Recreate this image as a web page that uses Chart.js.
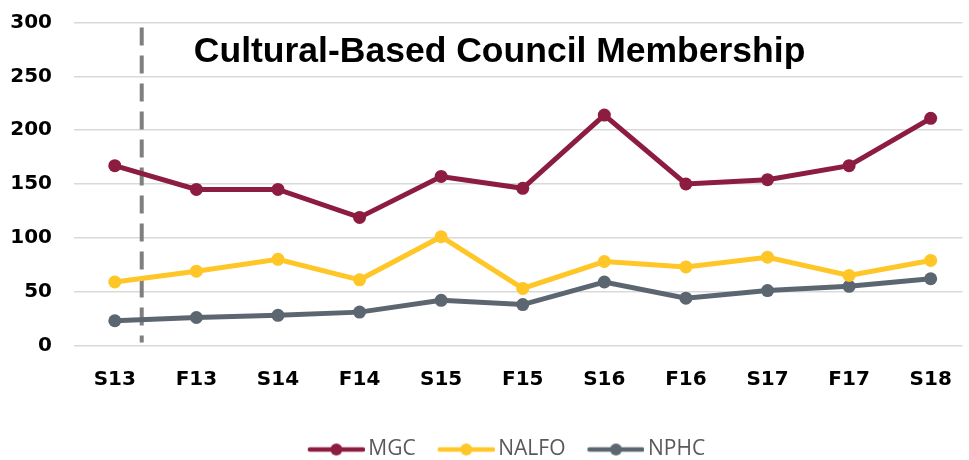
<!DOCTYPE html>
<html>
<head>
<meta charset="utf-8">
<script src="https://cdn.jsdelivr.net/npm/chart.js@4.4.1/dist/chart.umd.min.js"></script>
<style>
  html, body { margin: 0; padding: 0; background: #fff; }
  #wrap { width: 969px; height: 460px; }
</style>
</head>
<body>
<div id="wrap"><canvas id="chart"></canvas></div>
<script>
'use strict';

const semesters = ['S13', 'F13', 'S14', 'F14', 'S15', 'F15', 'S16', 'F16', 'S17', 'F17', 'S18'];
const mgc   = [167, 145, 145, 119, 157, 146, 214, 150, 154, 167, 211];
const nalfo = [59, 69, 80, 61, 101, 53, 78, 73, 82, 65, 79];
const nphc  = [23, 26, 28, 31, 42, 38, 59, 44, 51, 55, 62];
const yTicks = [0, 50, 100, 150, 200, 250, 300];

const titleText = 'Cultural-Based Council Membership';

// legend marker: line with a dot in the middle
function legendMarker(color) {
  const c = document.createElement('canvas');
  c.width = 64;
  c.height = 14;
  const g = c.getContext('2d');
  g.strokeStyle = color;
  g.lineWidth = 4.5;
  g.lineCap = 'round';
  g.beginPath();
  g.moveTo(9, 7);
  g.lineTo(62, 7);
  g.stroke();
  g.fillStyle = color;
  g.beginPath();
  g.arc(35.5, 7, 6, 0, Math.PI * 2);
  g.fill();
  return c;
}

// dashed divider between S13 and F13, plus the title inside the plot
const extras = {
  id: 'extras',
  afterLayout(chart) {
    // legend sits a little right of the canvas centre
    chart.legend.left += 22;
    chart.legend.right += 22;
  },
  beforeDatasetsDraw(chart) {
    const { ctx, chartArea, scales } = chart;
    const x = scales.x.getPixelForValue(0.33);
    ctx.save();
    ctx.strokeStyle = '#7f7f7f';
    ctx.lineWidth = 4;
    ctx.setLineDash([18, 10]);
    ctx.beginPath();
    ctx.moveTo(x, chartArea.top + 5);
    ctx.lineTo(x, chartArea.bottom - 3);
    ctx.stroke();
    ctx.restore();
  },
  afterDraw(chart) {
    const { ctx, chartArea } = chart;
    ctx.save();
    ctx.font = 'bold 35.5px "Liberation Sans", Arial, sans-serif';
    ctx.fillStyle = '#000';
    ctx.textAlign = 'center';
    ctx.textBaseline = 'alphabetic';
    ctx.fillText(titleText, chartArea.left + chartArea.width * 0.479, chartArea.top + 39);
    ctx.restore();
  }
};

function series(label, data, color) {
  return {
    label: label,
    data: data.map((v, i) => ({ x: i, y: v })),
    borderColor: color,
    backgroundColor: color,
    borderWidth: 5,
    pointRadius: 6.5,
    pointHoverRadius: 6.5,
    pointBorderWidth: 0,
    tension: 0,
    legendMarker: legendMarker(color)
  };
}

const tickFont = { family: '"DejaVu Sans", sans-serif', size: 20, weight: 'bold' };

new Chart(document.getElementById('chart'), {
  type: 'line',
  data: {
    datasets: [
      series('MGC', mgc, '#8c1d40'),
      series('NALFO', nalfo, '#ffc627'),
      series('NPHC', nphc, '#5c6670')
    ]
  },
  options: {
    responsive: true,
    maintainAspectRatio: false,
    animation: false,
    layout: { padding: { top: 0, right: 0, left: 0, bottom: -10 } },
    scales: {
      x: {
        type: 'linear',
        min: -0.5,
        max: semesters.length - 0.61,
        afterBuildTicks(axis) { axis.ticks = semesters.map((s, i) => ({ value: i })); },
        afterFit(axis) { axis.height += 11.5; },
        grid: { display: false },
        border: { display: false },
        ticks: {
          color: '#000',
          font: tickFont,
          padding: 14,
          maxRotation: 0,
          autoSkip: false,
          callback: v => semesters[v]
        }
      },
      y: {
        min: 0,
        max: 300,
        afterBuildTicks(axis) { axis.ticks = yTicks.map(v => ({ value: v })); },
        afterFit(axis) {
          axis.width = 74;
          axis.paddingTop = 22.5;
          axis.paddingBottom = 12;
        },
        grid: { color: '#d9d9d9', lineWidth: 1.5, drawTicks: false },
        border: { display: false },
        ticks: { color: '#000', font: tickFont, padding: 22 }
      }
    },
    plugins: {
      title: { display: false },
      tooltip: { enabled: false },
      legend: {
        position: 'bottom',
        labels: {
          usePointStyle: true,
          pointStyleWidth: 50,
          padding: 22,
          color: '#595959',
          font: { family: '"Open Sans", sans-serif', size: 21 },
          generateLabels(chart) {
            return chart.data.datasets.map((ds, i) => ({
              text: ds.label,
              pointStyle: ds.legendMarker,
              fillStyle: ds.borderColor,
              strokeStyle: ds.borderColor,
              fontColor: '#595959',
              lineWidth: 0,
              hidden: false,
              datasetIndex: i
            }));
          }
        }
      }
    }
  },
  plugins: [extras]
});
</script>
</body>
</html>
